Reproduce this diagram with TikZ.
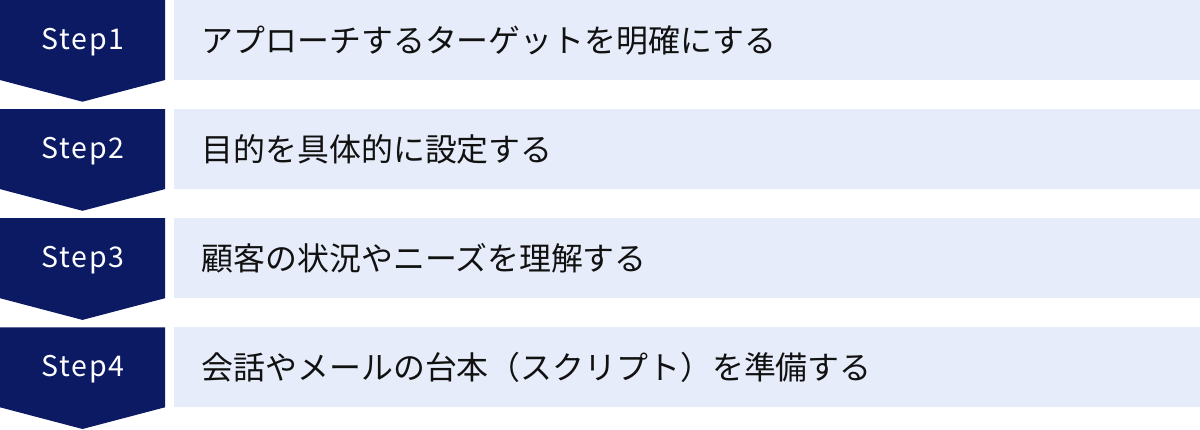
\documentclass[tikz,border=0pt]{standalone}
\usepackage{fontspec}
\setmainfont{Noto Sans CJK JP}
\newfontfamily\stepfont[LetterSpace=6]{Noto Sans CJK JP}
\definecolor{navy}{HTML}{0B1A63}
\definecolor{pale}{HTML}{E6ECF9}
\definecolor{ink}{HTML}{111111}
\begin{document}
\begin{tikzpicture}[x=1pt,y=-1pt,
  steplabel/.style={text=white,font=\stepfont\fontsize{28.5}{28.5}\selectfont,inner sep=0pt,anchor=center},
  itemtext/.style={text=ink,font=\fontsize{31.9}{31.9}\selectfont,inner sep=0pt,anchor=west},
  chev/.style={fill=navy},
  band/.style={fill=pale}]
\useasboundingbox (0,0) rectangle (1200,429);
\foreach \i/\y/\txt in {1/0/{アプローチするターゲットを明確にする},2/109.1/{目的を具体的に設定する},3/218.2/{顧客の状況やニーズを理解する},4/327.3/{会話やメールの台本（スクリプト）を準備する}}{
  \fill[chev] (0,\y) -- (165,\y) -- (165,\y+80) -- (82.5,\y+101.7) -- (0,\y+80) -- cycle;
  \fill[band] (174,\y) rectangle (1200,\y+80);
  \node[steplabel] (s\i) at (83,\y+42) {Step\i};
  \node[itemtext] (t\i) at (201.5,\y+40.5) {\txt};
}
\end{tikzpicture}
\end{document}
